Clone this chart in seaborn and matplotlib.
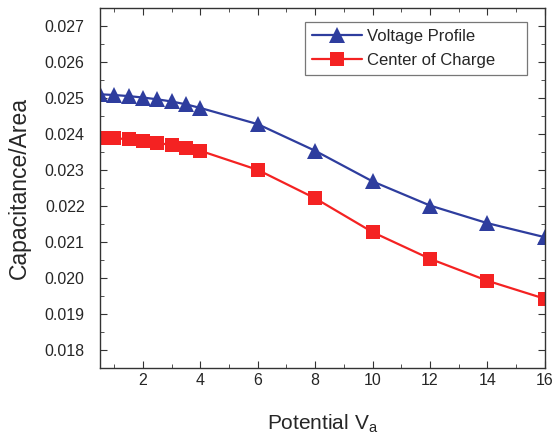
import numpy as np
import pandas as pd
import matplotlib
matplotlib.use("Agg")
import matplotlib.pyplot as plt
import seaborn as sns
from matplotlib.ticker import MultipleLocator

potential = [0.5, 1, 1.5, 2, 2.5, 3, 3.5, 4, 6, 8, 10, 12, 14, 16]
voltage_profile = [0.02510, 0.02508, 0.02505, 0.02501, 0.02496, 0.02490, 0.02482, 0.02472,
                   0.02427, 0.02353, 0.02268, 0.02201, 0.02152, 0.02113]
center_of_charge = [0.02389, 0.02388, 0.02385, 0.02380, 0.02375, 0.02369, 0.02361, 0.02353,
                    0.02300, 0.02221, 0.02127, 0.02053, 0.01992, 0.01942]
series_names = ["Voltage Profile", "Center of Charge"]
y_ticks = [0.018, 0.019, 0.020, 0.021, 0.022, 0.023, 0.024, 0.025, 0.026, 0.027]
x_ticks = [2, 4, 6, 8, 10, 12, 14, 16]

df = pd.DataFrame({
    "Potential": potential * 2,
    "Value": voltage_profile + center_of_charge,
    "Series": [series_names[0]] * len(potential) + [series_names[1]] * len(potential),
})

sns.set_style("ticks")
plt.rcParams['font.family'] = ['Liberation Sans', 'DejaVu Sans']

fig = plt.figure(figsize=(5.57, 4.40), dpi=100)
ax = fig.add_axes([0.1795, 0.164, 0.7985, 0.818])

palette = {series_names[0]: "#2E3D9E", series_names[1]: "#F42222"}
markers = {series_names[0]: "^", series_names[1]: "s"}
sns.lineplot(data=df, x="Potential", y="Value", hue="Series", style="Series",
             palette=palette, markers=markers, dashes=False, markersize=10,
             markeredgewidth=0, linewidth=1.6, ax=ax)

sizes = {series_names[0]: 11.5, series_names[1]: 9.5}
for line in ax.lines:
    if line.get_marker() == "^":
        line.set_markersize(sizes[series_names[0]])
    elif line.get_marker() == "s":
        line.set_markersize(sizes[series_names[1]])

ax.set_xlim(0.5, 16)
ax.set_ylim(0.0175, 0.0275)
ax.xaxis.set_minor_locator(MultipleLocator(1))
ax.yaxis.set_minor_locator(MultipleLocator(0.0005))
ax.set_xticks(x_ticks)
ax.set_yticks(y_ticks)
ax.set_yticklabels([f"{v:.3f}" for v in y_ticks])
ax.tick_params(which="both", direction="in", top=True, right=True, labelsize=11.5, color="#333333")
ax.tick_params(axis="y", pad=11)
ax.tick_params(axis="x", pad=4)
ax.tick_params(which="major", length=5)
ax.tick_params(which="minor", length=3)
for s in ax.spines.values():
    s.set_color("#333333")
    s.set_linewidth(1.0)

ax.set_xlabel("Potential V$_\\mathregular{a}$", fontsize=15, labelpad=17)
ax.set_ylabel("Capacitance/Area", fontsize=16.5, labelpad=10)

handles, labels = ax.get_legend_handles_labels()
for h in handles:
    if h.get_marker() == "^":
        h.set_markersize(sizes[series_names[0]])
    elif h.get_marker() == "s":
        h.set_markersize(sizes[series_names[1]])
leg = ax.legend(handles, labels, loc="upper left",
                bbox_to_anchor=(0.4607, 0.822, 0.499, 0.139), mode="expand",
                fontsize=12, frameon=True, fancybox=False, edgecolor="#555555",
                handlelength=3.0, handletextpad=0.35, borderpad=0.4,
                borderaxespad=0.0, labelspacing=0.57)
leg.get_frame().set_linewidth(0.9)

fig.savefig("out.png", dpi=100)
